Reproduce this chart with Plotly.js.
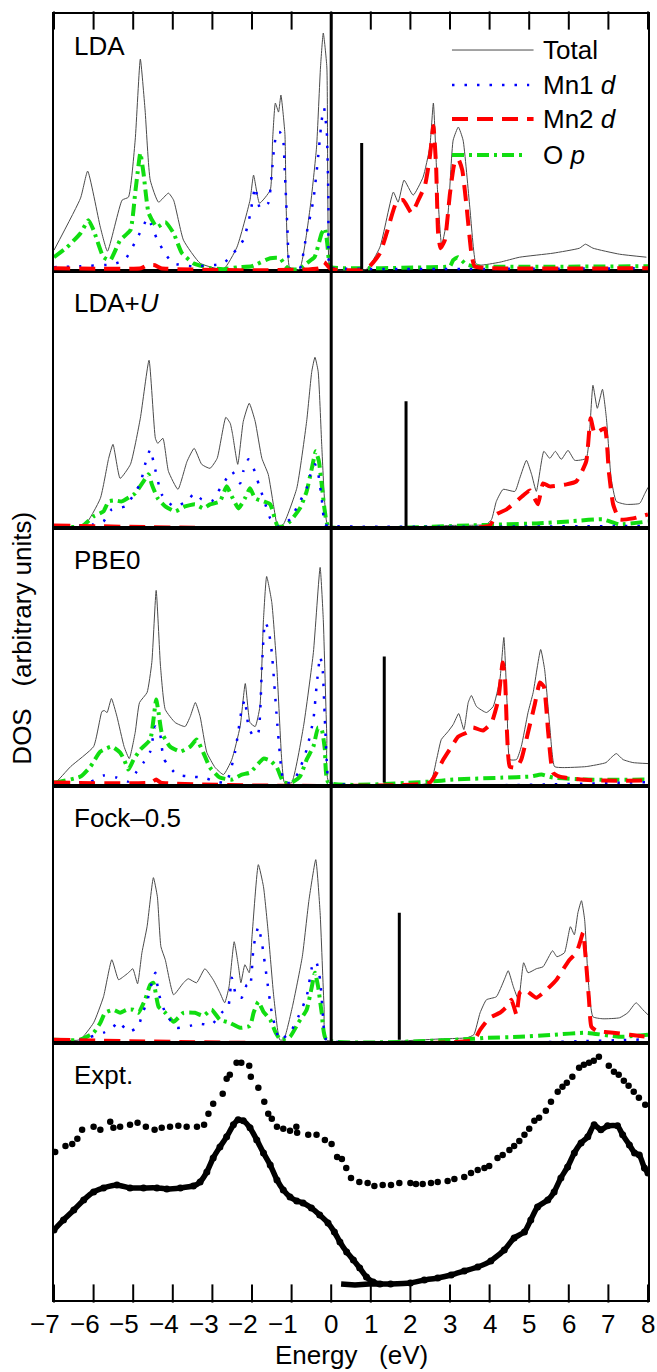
<!DOCTYPE html>
<html><head><meta charset="utf-8">
<script src="https://cdn.plot.ly/plotly-3.0.1.min.js"></script>
<style>html,body{margin:0;padding:0;background:#fff}</style>
</head><body><div id="chart" style="width:657px;height:1372px"></div>
<script>
// ---------- tick labels ----------
const tickVals = [-7,-6,-5,-4,-3,-2,-1,0,1,2,3,4,5,6,7,8];
const tickText = tickVals.map(v => v < 0 ? '\u2212' + Math.abs(v) : String(v));

// ---------- panel names ----------
const panelNames = ['LDA', 'LDA+<i>U</i>', 'PBE0', 'Fock\u20130.5', 'Expt.'];

// ---------- gap markers (energy, height) ----------
const gapX = [0.77, 1.89, 1.34, 1.72];
const gapH = [126, 125, 126, 127];

// ---------- LDA ----------
const lda_tot_x = [-7.0,-6.33,-6.15,-5.83,-5.65,-5.28,-5.12,-4.95,-4.82,-4.70,-4.57,-4.36,-4.11,-3.98,-3.73,-3.31,-2.72,-2.38,-2.05,-1.96,-1.81,-1.54,-1.48,-1.41,-1.33,-1.27,-1.17,-1.04,-0.80,-0.53,-0.37,-0.27,-0.20,-0.11,-0.05,0.0,0.89,1.23,1.57,1.69,1.84,2.07,2.32,2.49,2.58,2.68,2.79,2.95,3.08,3.21,3.33,3.50,3.65,3.75,4.26,4.76,5.60,6.27,6.42,6.61,7.28,7.96];
const lda_tot_y = [19,71,98,42,18,69,72,129,210,159,89,67,76,69,29,6,0,22,69,94,66,79,129,166,157,174,136,0,0,62,122,202,236,202,3,0,0,22,77,67,89,74,92,122,166,82,24,56,129,142,129,62,6,4,7,12,16,21,25,21,15,12];
const lda_mn1_x = [-7.0,-6.33,-5.5,-5.2,-4.9,-4.72,-4.65,-4.55,-4.40,-4.2,-4.0,-3.5,-2.72,-2.22,-2.05,-1.92,-1.80,-1.59,-1.50,-1.44,-1.37,-1.30,-1.22,-1.17,-1.10,-1.04,-0.80,-0.62,-0.45,-0.33,-0.24,-0.18,-0.11,-0.07,-0.05,0.0,8.0];
const lda_mn1_y = [2,3,5,10,31,45,51,45,30,16,6,3,6,29,54,82,61,66,96,122,137,137,132,96,36,0,0,36,69,112,149,161,136,69,2,1,1];
const lda_mn2_x = [-7.0,-4.8,-4.65,-4.45,-4.3,-0.3,-0.18,-0.08,0.0,0.89,1.23,1.40,1.65,1.82,2.03,2.20,2.37,2.49,2.58,2.65,2.70,2.76,2.87,3.00,3.12,3.21,3.31,3.42,3.54,3.62,4.0,8.0];
const lda_mn2_y = [1,1,4,4,1,1,7,3,0,0,16,36,67,69,56,69,84,112,143,102,36,21,29,76,107,110,99,62,16,3,1,1];
const lda_op_x = [-7.0,-6.67,-6.33,-6.13,-6.0,-5.75,-5.58,-5.33,-5.07,-4.95,-4.89,-4.82,-4.74,-4.61,-4.40,-4.19,-3.98,-3.77,-3.48,-3.06,-2.72,-2.35,-2.0,-1.54,-1.29,-1.15,-1.04,-0.80,-0.62,-0.42,-0.24,-0.16,-0.10,-0.05,0.0,2.5,3.0,3.08,3.20,3.40,3.6,8.0];
const lda_op_y = [12,22,36,49,39,12,9,29,39,76,96,116,96,56,42,47,36,16,6,1,0,2,3,11,11,3,0,0,6,12,36,41,26,6,2,2,3,9,12,5,3,3];

// ---------- LDA+U ----------
const ldau_tot_x = [-7.0,-6.25,-5.83,-5.62,-5.51,-5.33,-5.07,-4.82,-4.60,-4.44,-4.38,-4.25,-4.11,-3.87,-3.64,-3.46,-3.27,-3.06,-2.88,-2.66,-2.55,-2.49,-2.36,-2.22,-2.07,-1.92,-1.75,-1.59,-1.46,-1.35,-1.21,-0.87,-0.62,-0.49,-0.41,-0.33,-0.24,-0.16,-0.07,3.08,3.92,4.05,4.17,4.34,4.64,4.76,4.93,5.06,5.18,5.37,5.52,5.66,5.81,5.98,6.15,6.44,6.53,6.61,6.72,6.85,6.95,7.07,7.20,7.45,7.79,7.91,8.0];
const ldau_tot_y = [0,0,28,68,82,48,62,108,166,88,83,88,55,37,65,78,62,58,68,109,103,92,62,105,123,105,68,52,22,0,2,38,105,155,169,155,82,22,0,1,2,7,25,37,35,48,66,52,35,75,68,75,67,76,66,68,98,141,118,137,108,48,25,22,23,32,39];
const ldau_mn1_x = [-7.0,-6.0,-5.75,-5.54,-5.2,-4.82,-4.70,-4.57,-4.49,-4.28,-3.98,-3.64,-3.46,-3.27,-3.02,-2.85,-2.72,-2.51,-2.30,-2.22,-2.09,-1.96,-1.83,-1.71,-1.54,-1.35,-1.04,-0.83,-0.62,-0.54,-0.41,-0.33,-0.24,-0.16,-0.07,8.0];
const ldau_mn1_y = [0,2,5,17,20,43,62,77,65,32,20,25,33,27,25,35,43,55,43,55,67,58,42,28,8,0,7,22,38,50,62,53,28,2,0.5,0.5];
const ldau_mn2_x = [-7.0,4.0,4.17,4.43,4.85,5.02,5.22,5.35,5.52,5.94,6.19,6.44,6.55,6.65,6.76,6.91,7.01,7.12,7.28,7.62,8.0];
const ldau_mn2_y = [1,1,12,17,31,36,22,43,40,42,45,65,108,93,95,98,55,22,7,8,12];
const ldau_op_x = [-7.0,-6.3,-6.0,-5.75,-5.62,-5.46,-5.29,-5.07,-4.95,-4.74,-4.61,-4.53,-4.38,-4.19,-3.94,-3.69,-3.44,-3.23,-3.06,-2.81,-2.64,-2.51,-2.34,-2.18,-2.05,-1.92,-1.71,-1.54,-1.35,-1.21,-1.04,-0.79,-0.62,-0.49,-0.39,-0.31,-0.24,-0.16,-0.07,3.5,4.34,5.18,6.02,6.86,7.28,8.0];
const ldau_op_y = [0,0,10,15,25,26,25,30,33,45,52,42,28,20,15,20,22,18,22,25,40,30,18,28,38,28,25,22,0,0,5,18,35,58,75,65,42,15,0,1,2,3,5,7,2,5];

// ---------- PBE0 ----------
const pbe_tot_x = [-7.0,-6.96,-6.58,-6.0,-5.79,-5.73,-5.66,-5.55,-5.41,-5.23,-5.10,-4.95,-4.84,-4.65,-4.53,-4.42,-4.31,-4.19,-3.94,-3.69,-3.56,-3.43,-3.31,-3.14,-2.93,-2.72,-2.51,-2.30,-2.17,-2.05,-1.92,-1.80,-1.71,-1.63,-1.50,-1.37,-1.25,-1.18,-1.0,-0.70,-0.45,-0.28,-0.20,-0.11,-0.05,2.49,2.66,2.78,2.95,3.08,3.22,3.35,3.46,3.54,3.67,3.92,4.09,4.26,4.36,4.44,4.51,4.68,4.80,4.97,5.10,5.29,5.39,5.52,5.64,5.85,6.44,6.94,7.07,7.20,7.37,7.62,8.0];
const pbe_tot_y = [0,0,16,36,71,72,70,84,66,36,24,50,80,90,120,192,116,73,60,56,66,80,66,30,15,8,23,56,99,60,56,76,163,206,180,113,23,0,0,56,130,215,163,46,0,0,23,43,51,58,69,53,80,87,76,70,76,103,145,80,23,23,36,70,90,133,113,56,16,15,16,20,25,29,23,20,19];
const pbe_mn1_x = [-7.0,-6.08,-5.75,-5.41,-5.12,-4.91,-4.74,-4.57,-4.44,-4.32,-4.23,-3.90,-3.56,-3.23,-2.90,-2.65,-2.43,-2.26,-2.18,-2.09,-1.96,-1.84,-1.75,-1.67,-1.59,-1.50,-1.37,-1.25,-1.18,-1.0,-0.83,-0.62,-0.45,-0.37,-0.28,-0.22,-0.16,-0.10,-0.05,8.0];
const pbe_mn1_y = [0,1,7,5,1,11,20,31,56,48,24,8,6,5,1,0,30,73,83,56,46,50,116,160,154,130,63,10,0,0,10,33,63,96,126,115,63,13,0.5,0.5];
const pbe_mn2_x = [-7.0,-4.55,-4.42,-4.3,2.49,2.66,2.83,3.04,3.21,3.42,3.58,3.83,4.05,4.22,4.33,4.39,4.44,4.51,4.68,4.80,4.97,5.14,5.27,5.37,5.48,5.60,5.77,6.3,6.9,8.0];
const pbe_mn2_y = [0,0,3,0,0,10,23,36,46,50,55,52,60,83,120,103,50,16,15,23,50,78,100,96,50,10,6,3,2,2];
const pbe_op_x = [-7.0,-6.96,-6.33,-6.08,-5.83,-5.54,-5.33,-5.23,-5.12,-4.99,-4.82,-4.57,-4.42,-4.36,-4.28,-4.07,-3.81,-3.56,-3.40,-3.23,-3.06,-2.81,-2.51,-2.26,-2.05,-1.71,-1.54,-1.37,-1.2,-1.0,-0.79,-0.62,-0.45,-0.33,-0.24,-0.16,-0.07,2.49,3.08,4.34,5.02,5.31,5.6,6.44,8.0];
const pbe_op_y = [0,0,6,16,31,36,30,23,13,23,33,43,83,70,50,36,31,36,43,30,15,5,3,8,10,24,22,15,0,0,6,23,36,55,53,33,0,1,3,5,6,8,5,3,3];

// ---------- Fock-0.5 ----------
const fock_tot_x = [-7.0,-6.35,-6.0,-5.75,-5.54,-5.37,-5.25,-5.12,-5.01,-4.89,-4.78,-4.65,-4.49,-4.39,-4.30,-4.19,-3.98,-3.73,-3.61,-3.40,-3.19,-2.98,-2.81,-2.69,-2.58,-2.45,-2.34,-2.28,-2.18,-2.07,-2.0,-1.84,-1.71,-1.59,-1.45,-1.30,-1.2,-0.98,-0.73,-0.56,-0.39,-0.28,-0.18,-0.12,2.84,3.42,3.60,3.76,3.92,4.17,4.37,4.47,4.60,4.73,4.86,4.97,5.18,5.35,5.59,5.70,5.89,6.04,6.14,6.23,6.32,6.40,6.49,6.61,6.86,7.28,7.49,7.70,7.87,8.0];
const fock_tot_y = [0,0,17,43,80,60,63,67,71,56,87,113,162,143,93,80,45,57,61,57,71,60,47,37,53,98,73,57,75,67,103,175,153,107,43,0,0,33,83,140,180,127,33,0,1,2,5,27,40,43,60,69,53,40,77,67,71,73,89,83,87,113,105,127,139,120,60,23,21,22,27,37,30,25];
const fock_mn1_x = [-7.0,-6.3,-6.08,-5.75,-5.50,-5.37,-5.12,-4.87,-4.78,-4.65,-4.53,-4.44,-4.36,-4.19,-3.90,-3.56,-3.31,-3.02,-2.77,-2.60,-2.51,-2.39,-2.26,-2.13,-2.05,-1.96,-1.84,-1.75,-1.63,-1.50,-1.30,-1.04,-0.83,-0.62,-0.45,-0.37,-0.28,-0.20,-0.13,8.0];
const fock_mn1_y = [0,0,3,7,13,18,8,13,25,38,57,67,47,27,12,14,16,15,27,33,62,43,42,55,53,93,113,97,63,27,0,7,23,43,78,77,60,20,0.5,0.5];
const fock_mn2_x = [-7.0,3.6,3.76,4.0,4.26,4.43,4.55,4.68,4.76,4.89,5.18,5.44,5.69,5.85,6.02,6.19,6.28,6.36,6.43,6.51,6.57,6.70,7.12,7.54,8.0];
const fock_mn2_y = [0,0,10,22,27,33,40,25,47,50,42,50,60,70,80,87,97,107,80,40,13,9,7,5,3];
const fock_op_x = [-7.0,-6.35,-6.0,-5.83,-5.71,-5.50,-5.33,-5.16,-5.0,-4.87,-4.70,-4.57,-4.49,-4.36,-4.19,-3.98,-3.73,-3.44,-3.23,-3.02,-2.81,-2.56,-2.30,-2.05,-1.96,-1.84,-1.71,-1.54,-1.40,-1.28,-1.04,-0.83,-0.62,-0.49,-0.41,-0.33,-0.24,-0.12,3.6,3.92,4.76,5.60,6.44,7.28,8.0];
const fock_op_y = [0,0,7,17,27,30,27,30,30,27,40,55,57,33,27,18,27,27,24,30,20,17,12,14,27,38,28,20,7,0,3,17,30,53,67,53,27,0,1,2,3,5,7,3,5];

// ---------- Experiment ----------
const expA_x = [-6.97,-6.71,-6.54,-6.41,-6.29,-6.0,-5.83,-5.58,-5.50,-5.33,-5.08,-4.89,-4.68,-4.46,-4.28,-4.07,-3.86,-3.65,-3.39,-3.21,-3.10,-2.98,-2.74,-2.64,-2.56,-2.39,-2.27,-2.07,-2.03,-1.84,-1.69,-1.59,-1.50,-1.37,-1.21,-1.04,-0.88,-0.86,-0.58,-0.37,-0.16,0.01,0.15,0.27,0.38,0.50,0.71,0.92,1.09,1.30,1.51,1.72,2.0,2.14,2.31,2.52,2.69,2.94,3.11,3.36,3.53,3.70,3.87,3.99,4.20,4.33,4.50,4.62,4.75,4.88,5.0,5.13,5.25,5.42,5.55,5.72,5.84,5.95,6.09,6.26,6.38,6.51,6.63,6.76,7.01,7.14,7.26,7.39,7.51,7.64,7.77,7.93];
const expA_y = [146,152,154,159,168,171,168,176,170,171,173,175,171,168,170,171,172,171,171,173,184,194,204,219,223,235,235,232,221,210,196,184,179,171,169,167,171,165,163,163,158,154,141,139,130,120,116,115,112,113,113,115,115,114,114,115,116,117,119,121,125,128,130,132,140,143,148,152,157,163,169,177,180,187,196,206,211,215,221,230,233,235,237,241,232,226,223,217,212,206,200,193];
const expB_x = [-7.0,-6.76,-6.5,-6.25,-6.0,-5.75,-5.41,-5.08,-4.74,-4.40,-4.15,-3.81,-3.48,-3.31,-3.14,-2.98,-2.81,-2.64,-2.47,-2.35,-2.22,-2.05,-1.88,-1.71,-1.54,-1.37,-1.21,-1.04,-0.87,-0.71,-0.50,-0.29,-0.08,0.08,0.22,0.39,0.56,0.72,0.89,1.06,1.23,1.5,2.0,2.35,2.69,3.03,3.36,3.70,4.03,4.37,4.62,4.88,5.04,5.21,5.47,5.63,5.80,5.97,6.14,6.31,6.48,6.64,6.81,6.98,7.23,7.36,7.53,7.66,7.78,7.91,8.0];
const expB_y = [68,78,88,98,106,110,113,110,110,110,109,110,112,116,126,140,151,161,173,178,177,170,158,145,133,118,108,101,97,95,90,83,75,66,56,46,38,30,21,16,14,14,15,18,20,23,27,31,37,48,60,66,78,91,98,106,120,131,145,155,161,173,168,172,172,163,153,145,143,130,125];
const expFloor_x = [0.25, 0.6, 0.95, 1.3];
const expFloor_y = [14, 13, 14, 14];

// ---------- styling ----------
const FONT = "'Liberation Sans', Arial, Helvetica, sans-serif";
const C_TOT = '#4a4a4a', C_MN1 = '#0000ff', C_MN2 = '#ff0000', C_OP = '#11dd11';
const DASH_MN1 = '2.5px,10px', DASH_MN2 = '16px,9px', DASH_OP = '12px,5px,3px,5px';
const W_MN1 = 2.5, W_MN2 = 4, W_OP = 4;
const SMOOTH = 0.45;
const TICKLEN = 13;

const calc = [
  {tot:[lda_tot_x,lda_tot_y], mn1:[lda_mn1_x,lda_mn1_y], mn2:[lda_mn2_x,lda_mn2_y], op:[lda_op_x,lda_op_y]},
  {tot:[ldau_tot_x,ldau_tot_y], mn1:[ldau_mn1_x,ldau_mn1_y], mn2:[ldau_mn2_x,ldau_mn2_y], op:[ldau_op_x,ldau_op_y]},
  {tot:[pbe_tot_x,pbe_tot_y], mn1:[pbe_mn1_x,pbe_mn1_y], mn2:[pbe_mn2_x,pbe_mn2_y], op:[pbe_op_x,pbe_op_y]},
  {tot:[fock_tot_x,fock_tot_y], mn1:[fock_mn1_x,fock_mn1_y], mn2:[fock_mn2_x,fock_mn2_y], op:[fock_op_x,fock_op_y]}
];
const yRanges = [[-2,255],[-2,255],[-3,254],[-3,254],[-2,255]];
const yid = i => i === 0 ? 'y' : 'y' + (i + 1);
const xid = i => i === 0 ? 'x2' : 'x';

const traces = [];
calc.forEach((p, i) => {
  const ya = yid(i), xa = xid(i);
  const sp = (c, w, d) => ({color:c, width:w, dash:d, shape:'spline', smoothing:SMOOTH});
  traces.push({x:p.tot[0], y:p.tot[1], yaxis:ya, xaxis:xa, mode:'lines', line:sp(C_TOT, 1, 'solid'), hoverinfo:'skip'});
  traces.push({x:p.op[0], y:p.op[1], yaxis:ya, xaxis:xa, mode:'lines', line:sp(C_OP, W_OP, DASH_OP), hoverinfo:'skip'});
  traces.push({x:p.mn1[0], y:p.mn1[1], yaxis:ya, xaxis:xa, mode:'lines', line:sp(C_MN1, W_MN1, DASH_MN1), hoverinfo:'skip'});
  traces.push({x:p.mn2[0], y:p.mn2[1], yaxis:ya, xaxis:xa, mode:'lines', line:sp(C_MN2, W_MN2, DASH_MN2), hoverinfo:'skip'});
  traces.push({x:[gapX[i], gapX[i]], y:[0, gapH[i]], yaxis:ya, xaxis:xa, mode:'lines', line:{color:'#000', width:3}, hoverinfo:'skip'});
});
traces.push({x:expA_x, y:expA_y, yaxis:'y5', xaxis:'x', mode:'markers', marker:{color:'#000', size:6.5}, hoverinfo:'skip'});
traces.push({x:expB_x, y:expB_y, yaxis:'y5', xaxis:'x', mode:'lines+markers', line:{color:'#000', width:5.5, shape:'spline', smoothing:0.5}, marker:{color:'#000', size:7}, hoverinfo:'skip'});
traces.push({x:expFloor_x, y:expFloor_y, yaxis:'y5', xaxis:'x', mode:'lines', line:{color:'#000', width:5.5}, hoverinfo:'skip'});

// inside ticks (vertical line markers) at the bottom of the lowest panel and top of the highest panel
const tickMarker = {symbol:'line-ns', size:TICKLEN, color:'#000', line:{color:'#000', width:2}};
traces.push({x:tickVals, y:tickVals.map(() => yRanges[4][0] + TICKLEN / 2), xaxis:'x', yaxis:'y5',
  mode:'markers', marker:tickMarker, cliponaxis:false, hoverinfo:'skip'});
traces.push({x:tickVals, y:tickVals.map(() => yRanges[0][1] - TICKLEN / 2), xaxis:'x2', yaxis:'y',
  mode:'markers', marker:tickMarker, cliponaxis:false, hoverinfo:'skip'});

const axisCommon = {range:[-7,8], showticklabels:false, ticks:'',
  showline:true, linewidth:2, linecolor:'#000', showgrid:false, zeroline:false, fixedrange:true};

const layout = {
  width:657, height:1372,
  margin:{l:54, r:9, t:14, b:72},
  showlegend:false,
  paper_bgcolor:'#fff', plot_bgcolor:'#fff',
  font:{family:FONT, color:'#000', size:26},
  xaxis:Object.assign({}, axisCommon, {anchor:'y5', side:'bottom', mirror:'all'}),
  xaxis2:Object.assign({}, axisCommon, {anchor:'y', side:'top', mirror:true}),
  shapes:[
    {type:'line', xref:'x', yref:'paper', x0:0, x1:0, y0:0.2, y1:1, line:{color:'#000', width:3}},
    // legend samples
    {type:'line', xref:'x2', yref:'y', x0:3.05, x1:5.11, y0:219, y1:219, line:{color:C_TOT, width:1}},
    {type:'line', xref:'x2', yref:'y', x0:3.05, x1:5.0, y0:184, y1:184, line:{color:C_MN1, width:W_MN1, dash:DASH_MN1}},
    {type:'line', xref:'x2', yref:'y', x0:3.05, x1:5.11, y0:150, y1:150, line:{color:C_MN2, width:W_MN2, dash:DASH_MN2}},
    {type:'line', xref:'x2', yref:'y', x0:3.05, x1:4.9, y0:114, y1:114, line:{color:C_OP, width:W_OP, dash:DASH_OP}}
  ],
  annotations:[
    {text:'Total', xref:'x2', yref:'y', x:5.3, y:219, xanchor:'left', yanchor:'middle', showarrow:false, font:{size:26}},
    {text:'Mn1 <i>d</i>', xref:'x2', yref:'y', x:5.3, y:184, xanchor:'left', yanchor:'middle', showarrow:false, font:{size:26}},
    {text:'Mn2 <i>d</i>', xref:'x2', yref:'y', x:5.3, y:150, xanchor:'left', yanchor:'middle', showarrow:false, font:{size:26}},
    {text:'O <i>p</i>', xref:'x2', yref:'y', x:5.3, y:114, xanchor:'left', yanchor:'middle', showarrow:false, font:{size:26}},
    {text:'DOS\u00a0\u00a0\u00a0(arbitrary units)', xref:'paper', yref:'paper', x:-0.054, y:0.515, textangle:-90,
     xanchor:'center', yanchor:'middle', showarrow:false, font:{size:26}},
    {text:'Energy\u00a0\u00a0\u00a0(eV)', xref:'paper', yref:'paper', x:0.5, y:-0.043, xanchor:'center', yanchor:'middle', showarrow:false, font:{size:26}}
  ]
};
// tick labels: digits centred on the tick, minus sign hanging to the left
tickVals.forEach((v, k) => {
  layout.annotations.push({text:tickText[k], xref:'x', yref:'paper', x:v, y:-0.0185,
    xanchor: v < 0 ? 'right' : 'center', xshift: v < 0 ? 8.3 : 0, yanchor:'middle',
    showarrow:false, font:{size:26}});
});
for (let i = 0; i < 5; i++) {
  layout['yaxis' + (i === 0 ? '' : (i + 1))] = {
    domain:[1 - (i + 1) / 5, 1 - i / 5], range:yRanges[i], anchor: i === 0 ? 'x2' : 'x',
    showticklabels:false, ticks:'', showgrid:false, zeroline:false,
    showline:true, mirror:true, linewidth:2, linecolor:'#000', fixedrange:true
  };
  layout.annotations.push({text:panelNames[i], xref:'paper', yref:'paper', x:0.031, y:1 - i / 5 - 32 / 1286,
    xanchor:'left', yanchor:'middle', showarrow:false, font:{size:26}});
}

Plotly.newPlot('chart', traces, layout, {staticPlot:true, displayModeBar:false});
</script></body></html>
